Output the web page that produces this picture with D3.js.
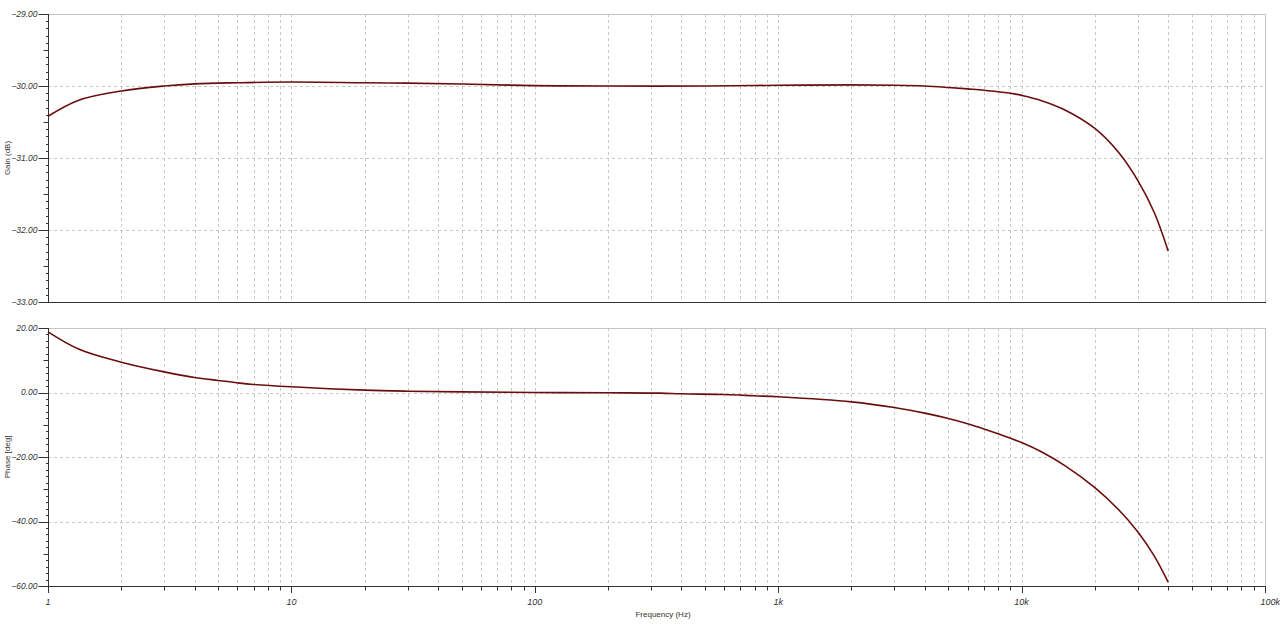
<!DOCTYPE html>
<head>
  <meta charset="utf-8">
  <script src="https://d3js.org/d3.v7.min.js"></script>
  <style>
    body { margin:0; background:#fff; }
    text { font-family: "Liberation Sans", Arial, sans-serif; fill:#333; }
    .grid line { stroke:#c8c8c8; stroke-width:1px; stroke-dasharray:3,3; }
    .curve { fill:none; stroke:#6b0d0d; stroke-width:1.6px; }
  </style>
</head>
<body>
<script>
  // frequency axis
  var xTickLabels = ["1", "10", "100", "1k", "10k", "100k"];

  // gain curve (dB)
  var gainFreq = [1, 1.33, 2, 3, 4, 6, 10, 20, 30, 50, 100, 200, 500, 1000, 2000, 3000, 4000,
                  5000, 6000, 7000, 8000, 9000, 10000, 12000, 15000, 20000, 25000, 30000, 35000, 40000];
  var gainDb = [-30.42, -30.20, -30.07, -30.00, -29.97, -29.955, -29.945, -29.955, -29.96, -29.972,
                -29.995, -30.0, -30.0, -29.99, -29.985, -29.99, -30.0, -30.02, -30.04, -30.058,
                -30.08, -30.10, -30.13, -30.20, -30.33, -30.59, -30.92, -31.31, -31.75, -32.29];

  // phase curve (deg)
  var phaseFreq = [1, 1.35, 2, 3, 4, 5, 6, 7, 10, 20, 30, 50, 100, 200, 327, 400, 600, 800, 1000,
                   2000, 3000, 4000, 5000, 6000, 7000, 8000, 9000, 10000, 12000, 15000, 20000, 25000,
                   30000, 35000, 40000];
  var phaseDeg = [18.8, 13.3, 9.4, 6.4, 4.66, 3.73, 3.0, 2.5, 1.76, 0.73, 0.41, 0.2, 0.0, -0.1, -0.2,
                  -0.41, -0.62, -1.03, -1.34, -2.9, -4.65, -6.4, -8.07, -9.7, -11.3, -12.8, -14.2,
                  -15.5, -18.3, -22.6, -29.5, -36.3, -43.2, -50.6, -58.8];

  var gainTicks = [-33, -32, -31, -30, -29];
  var phaseTicks = [-60, -40, -20, 0, 20];

  var W = 1280, H = 627;
  var left = 48, right = 1265;

  var svg = d3.select("body").append("svg")
    .attr("width", W)
    .attr("height", H);

  var x = d3.scaleLog().domain([1, 1e5]).range([left, right]);

  // every 1..9 multiple in each decade
  var freqGrid = [];
  d3.range(0, 5).forEach(function(e) {
    d3.range(1, 10).forEach(function(m) { freqGrid.push(m * Math.pow(10, e)); });
  });
  freqGrid.push(1e5);

  function panel(top, bottom, domain, majors, step, fmt, title, fx, fy) {
    var y = d3.scaleLinear().domain(domain).range([bottom, top]);
    var g = svg.append("g");

    // vertical grid
    g.append("g").attr("class", "grid")
      .selectAll("line").data(freqGrid.filter(function(f) { return f > 1 && f < 1e5; }))
      .enter().append("line")
      .attr("x1", function(d) { return Math.round(x(d)) + 0.5; })
      .attr("x2", function(d) { return Math.round(x(d)) + 0.5; })
      .attr("y1", top).attr("y2", bottom);

    // horizontal grid
    g.append("g").attr("class", "grid")
      .selectAll("line").data(majors.slice(1, -1))
      .enter().append("line")
      .attr("x1", left).attr("x2", right)
      .attr("y1", function(d) { return Math.round(y(d)) + 0.5; })
      .attr("y2", function(d) { return Math.round(y(d)) + 0.5; });

    // light frame top/right
    g.append("line").attr("x1", left).attr("x2", right + 0.5)
      .attr("y1", top + 0.5).attr("y2", top + 0.5)
      .attr("stroke", "#c4c4c4");
    g.append("line").attr("x1", right + 0.5).attr("x2", right + 0.5)
      .attr("y1", top).attr("y2", bottom)
      .attr("stroke", "#c4c4c4");

    // bottom line
    g.append("line").attr("x1", left).attr("x2", right + 1)
      .attr("y1", bottom + 0.5).attr("y2", bottom + 0.5)
      .attr("stroke", "#333");

    // left axis with minor ticks
    var minor = d3.range(domain[0], domain[1] + step / 2, step);
    var yAx = g.append("g").attr("transform", "translate(" + (left + 0.5) + ",0)");
    yAx.append("line").attr("y1", top).attr("y2", bottom + 1).attr("stroke", "#333");
    yAx.selectAll("line.t").data(minor).enter().append("line")
      .attr("class", "t")
      .attr("y1", function(d) { return Math.round(y(d)) + 0.5; })
      .attr("y2", function(d) { return Math.round(y(d)) + 0.5; })
      .attr("x2", 0)
      .attr("x1", function(d, i) { return i % 10 === 0 ? -10 : (i % 5 === 0 ? -5 : -2.5); })
      .attr("stroke", "#333");
    yAx.selectAll("text").data(majors).enter().append("text")
      .attr("x", -11).attr("y", function(d) { return y(d); })
      .attr("dy", "0.35em")
      .attr("text-anchor", "end")
      .style("font-size", "8.5px").style("font-style", "italic")
      .text(fmt);

    svg.append("text")
      .attr("transform", "translate(10," + ((top + bottom) / 2) + ") rotate(-90)")
      .attr("text-anchor", "middle")
      .style("font-size", "8px")
      .text(title);

    var line = d3.line()
      .x(function(d, i) { return x(fx[i]); })
      .y(function(d) { return y(d); })
      .curve(d3.curveCatmullRom.alpha(0.5));
    g.append("path").attr("class", "curve").attr("d", line(fy));
    return y;
  }

  panel(14, 302, [-33, -29], gainTicks, 0.1, d3.format(".2f"), "Gain (dB)", gainFreq, gainDb);
  panel(328, 586, [-60, 20], phaseTicks, 2, d3.format(".2f"), "Phase [deg]", phaseFreq, phaseDeg);

  // frequency ticks + labels
  var xAx = svg.append("g");
  xAx.selectAll("line").data(freqGrid).enter().append("line")
    .attr("x1", function(d) { return Math.round(x(d)) + 0.5; })
    .attr("x2", function(d) { return Math.round(x(d)) + 0.5; })
    .attr("y1", 587)
    .attr("y2", function(d) { return Math.abs(Math.log10(d) % 1) < 1e-9 ? 593 : 590.5; })
    .attr("stroke", "#333");
  xAx.selectAll("text").data(xTickLabels).enter().append("text")
    .attr("x", function(d, i) { return i === xTickLabels.length - 1 ? W : x(Math.pow(10, i)); })
    .attr("y", 605)
    .attr("text-anchor", function(d, i) { return i === xTickLabels.length - 1 ? "end" : "middle"; })
    .style("font-size", "9px").style("font-style", "italic")
    .text(function(d) { return d; });

  svg.append("text")
    .attr("x", 663).attr("y", 617)
    .attr("text-anchor", "middle")
    .style("font-size", "8px")
    .text("Frequency (Hz)");
</script>
</body>
